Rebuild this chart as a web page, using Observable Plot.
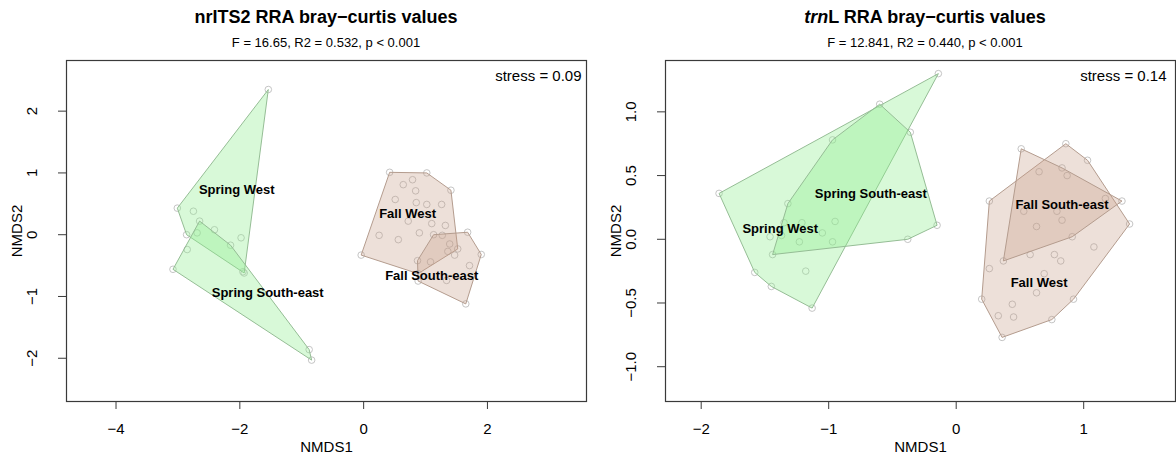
<!DOCTYPE html>
<html><head><meta charset="utf-8">
<script src="https://cdn.jsdelivr.net/npm/d3@7"></script>
<script src="https://cdn.jsdelivr.net/npm/@observablehq/plot@0.6"></script>
<style>
html,body{margin:0;padding:0;background:#fff;overflow:hidden;}
#wrap{position:relative;width:1176px;height:458px;overflow:hidden;font-family:"Liberation Sans",Arial,sans-serif;color:#000;}
.panel{position:absolute;top:0;height:458px;}
.title{position:absolute;top:8px;font-weight:bold;font-size:18px;line-height:18px;white-space:nowrap;transform:translateX(-50%);}
.sub{position:absolute;top:36px;font-size:13px;line-height:13px;white-space:nowrap;transform:translateX(-50%);}
</style></head>
<body><div id="wrap"></div>
<script>
// ---------- nrITS2 panel data ----------
const itsSpringWest = [[-1.54,2.35],[-3.01,0.43],[-2.75,0.38],[-2.86,0.00],[-2.41,0.08],[-1.98,-0.05],[-1.93,-0.62]];
const itsSpringSE = [[-2.65,0.22],[-2.69,0.03],[-2.15,-0.17],[-1.95,-0.60],[-0.84,-2.03],[-0.88,-1.86],[-3.08,-0.56],[-2.85,-0.24]];
const itsFallWest = [[0.42,1.01],[1.02,1.00],[1.41,0.72],[1.52,-0.23],[0.88,-0.63],[-0.04,-0.33],
  [0.64,0.81],[0.79,0.89],[0.84,0.71],[0.51,0.57],[0.85,0.52],[1.02,0.49],[1.26,0.49],[0.72,0.22],[1.10,0.18],
  [1.32,0.15],[0.90,0.03],[0.25,-0.01],[0.56,-0.08],[1.27,-0.01],[1.39,-0.15],[1.36,-0.27]];
const itsFallSE = [[1.13,0.00],[1.68,0.04],[1.90,-0.32],[1.65,-1.12],[0.88,-0.75],[0.87,-0.42],[1.71,-0.50],[1.34,-0.74],[1.47,-0.33],[1.08,-0.44]];
const itsLabels = ["Spring West","Spring South-east","Fall West","Fall South-east"];
const itsLabelX = [-2.05,-1.55,0.71,1.10];
const itsLabelY = [0.73,-0.94,0.34,-0.66];
const itsXTicks = [-4,-2,0,2];
const itsYTicks = [-2,-1,0,1,2];
const itsTitle = "nrITS2 RRA bray\u2212curtis values";
const itsSub = "F = 16.65, R2 = 0.532, p < 0.001";
const itsStress = "stress = 0.09";

// ---------- trnL panel data ----------
const trnSpringWest = [[-1.86,0.36],[-0.14,1.30],[-1.13,-0.54],[-1.45,-0.37],[-1.58,-0.26],
  [-1.21,0.13],[-1.35,0.13],[-1.46,0.02],[-1.37,0.03],[-1.23,-0.02],[-1.18,-0.25]];
const trnSpringSE = [[-0.60,1.06],[-0.36,0.84],[-0.15,0.11],[-0.38,0.00],[-1.44,-0.12],[-1.32,0.28],[-0.97,0.78],
  [-0.95,0.14],[-1.05,0.05],[-0.97,-0.02]];
const trnFallWest = [[0.86,0.75],[1.03,0.62],[1.36,0.12],[0.92,-0.47],[0.75,-0.63],[0.36,-0.77],[0.20,-0.47],[0.26,0.30],
  [0.65,0.53],[0.87,0.50],[1.08,-0.06],[0.58,-0.12],[0.77,-0.12],[0.82,-0.17],[0.26,-0.23],[0.69,-0.27],[0.63,-0.42],
  [0.44,-0.51],[0.33,-0.60],[0.45,-0.61]];
const trnFallSE = [[0.51,0.71],[1.30,0.30],[0.91,0.02],[0.37,-0.17],[0.83,0.56],[1.17,0.32],[0.53,0.22],[0.79,0.22],[0.63,0.10],[0.83,0.15]];
const trnLabels = ["Spring West","Spring South-east","Fall West","Fall South-east"];
const trnLabelX = [-1.38,-0.67,0.65,0.83];
const trnLabelY = [0.08,0.36,-0.34,0.27];
const trnXTicks = [-2,-1,0,1];
const trnYTicks = [-1.0,-0.5,0.0,0.5,1.0];
const trnSub = "F = 12.841, R2 = 0.440, p < 0.001";
const trnStress = "stress = 0.14";

// ---------- styling ----------
const springFill = "#90ee90", fallFill = "#c6a08a";
const springStroke = "#95bd95", fallStroke = "#b49c8e";
const FONT = "Liberation Sans, Arial, sans-serif";
const minus = s => s.replace("-", "\u2212");

function panel({width, ml, mr, xdom, ydom, groups, labels, lx, ly, xt, yt, yfmt, stress, sdx}) {
  const pts = groups.flatMap(g => g.pts);
  const labelData = labels.map((t, i) => ({t, x: lx[i], y: ly[i]}));
  const hulls = groups.map(g => Plot.hull(g.pts, {x: d => d[0], y: d => d[1], fill: g.fill, fillOpacity: g.op, stroke: g.stroke, strokeWidth: 1}));
  return Plot.plot({
    width, height: 458,
    marginLeft: ml, marginRight: mr, marginTop: 60, marginBottom: 57,
    x: {domain: xdom}, y: {domain: ydom},
    style: {fontFamily: FONT, background: "transparent", overflow: "visible"},
    marks: [
      Plot.dot(pts, {x: d => d[0], y: d => d[1], r: 3.3, stroke: "#bdbdbd", strokeWidth: 0.9, fill: "none"}),
      ...hulls,
      Plot.text(labelData, {x: "x", y: "y", text: "t", fontWeight: "bold", fontSize: 13, fill: "#000"}),
      Plot.frame({stroke: "#3a3a3a", strokeWidth: 1.2}),
      Plot.axisX({ticks: xt, tickSize: 8, tickPadding: 14, fontSize: 15, tickFormat: d => minus(String(d)), label: null, stroke: "#3a3a3a"}),
      Plot.axisY({ticks: yt, tickSize: 8, tickFormat: () => "", label: null, stroke: "#3a3a3a"}),
      Plot.text(yt, {y: d => d, text: d => minus(yfmt(d)), frameAnchor: "left", dx: -34, rotate: -90, textAnchor: "middle", lineAnchor: "middle", fontSize: 15}),
      Plot.text(["NMDS1"], {frameAnchor: "bottom", dy: 46, lineAnchor: "middle", fontSize: 15}),
      Plot.text(["NMDS2"], {frameAnchor: "left", dx: -49, rotate: -90, textAnchor: "middle", lineAnchor: "middle", fontSize: 15}),
      Plot.text([stress], {frameAnchor: "top-right", dx: sdx, dy: 16, textAnchor: "end", lineAnchor: "middle", fontSize: 15})
    ]
  });
}

const wrap = document.getElementById("wrap");
function addPanel(left, width, svg, center, titleHTML, sub) {
  const div = document.createElement("div");
  div.className = "panel"; div.style.left = left + "px"; div.style.width = width + "px";
  div.appendChild(svg);
  const t = document.createElement("div"); t.className = "title"; t.style.left = center + "px"; t.innerHTML = titleHTML;
  const s = document.createElement("div"); s.className = "sub"; s.style.left = center + "px"; s.textContent = sub;
  div.appendChild(t); div.appendChild(s);
  wrap.appendChild(div);
}

const sp = {fill: springFill, stroke: springStroke, op: 0.35};
const fa = {fill: fallFill, stroke: fallStroke, op: 0.32};

const left = panel({width: 600, ml: 66, mr: 14, xdom: [-4.80, 3.60], ydom: [-2.70, 2.82],
  groups: [{pts: itsSpringWest, ...sp}, {pts: itsSpringSE, ...sp}, {pts: itsFallWest, ...fa}, {pts: itsFallSE, ...fa}],
  labels: itsLabels, lx: itsLabelX, ly: itsLabelY, xt: itsXTicks, yt: itsYTicks, yfmt: d => String(d), stress: itsStress, sdx: -5});
addPanel(0, 600, left, 326, itsTitle, itsSub);

const right = panel({width: 576, ml: 65, mr: 1, xdom: [-2.28, 1.72], ydom: [-1.273, 1.403],
  groups: [{pts: trnSpringWest, ...sp}, {pts: trnSpringSE, ...sp}, {pts: trnFallWest, ...fa}, {pts: trnFallSE, ...fa}],
  labels: trnLabels, lx: trnLabelX, ly: trnLabelY, xt: trnXTicks, yt: trnYTicks, yfmt: d => d.toFixed(1), stress: trnStress, sdx: -9});
addPanel(600, 576, right, 325, "<i>trn</i>L RRA bray\u2212curtis values", trnSub);
</script>
</body></html>
